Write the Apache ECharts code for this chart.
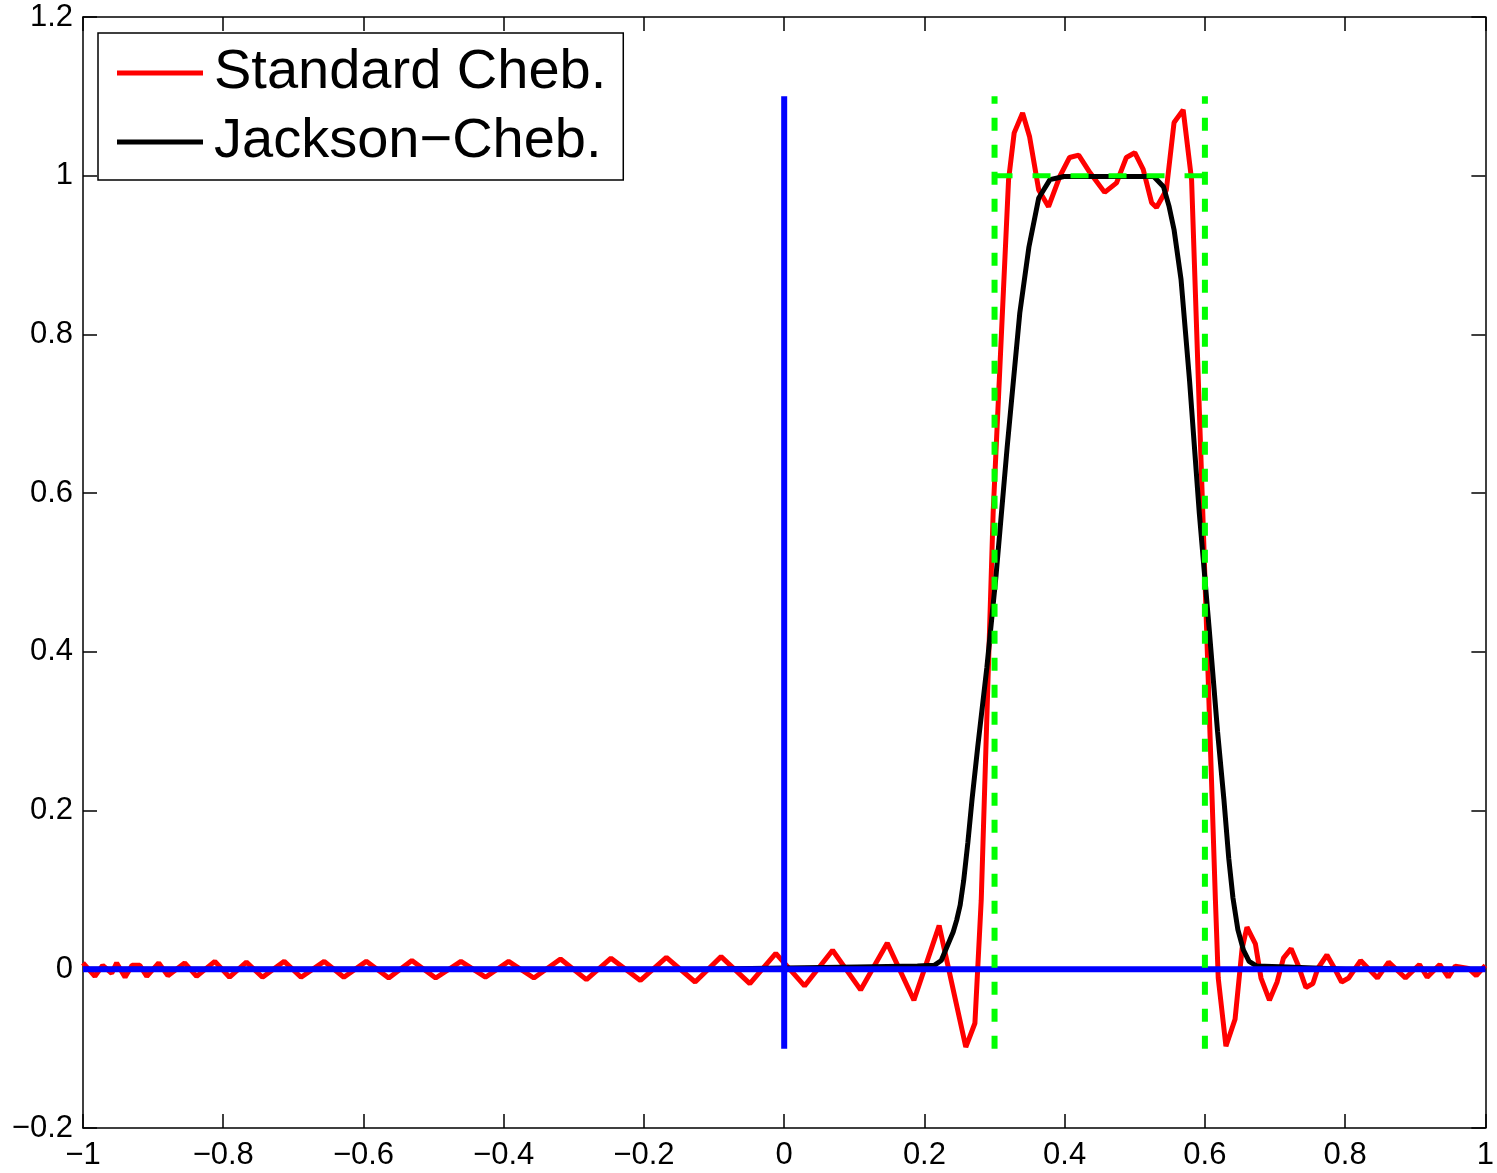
<!DOCTYPE html>
<html>
<head>
<meta charset="utf-8">
<script src="https://cdn.jsdelivr.net/npm/echarts@6/dist/echarts.min.js"></script>
<style>
  html, body { margin: 0; padding: 0; background: #fff; }
  #chart { width: 1497px; height: 1173px; }
</style>
</head>
<body>
<div id="chart"></div>
<script>
// values
const xTicks = [-1, -0.8, -0.6, -0.4, -0.2, 0, 0.2, 0.4, 0.6, 0.8, 1];
const yTicks = [-0.2, 0, 0.2, 0.4, 0.6, 0.8, 1, 1.2];

const legendNames = ['Standard Cheb.', 'Jackson\u2212Cheb.'];

// standard chebyshev expansion, [x, y]
const standardCheb = [
  [-1.000, 0.008], [-0.983, -0.009], [-0.972, 0.005], [-0.959, -0.005], [-0.952, 0.008],
  [-0.940, -0.010], [-0.930, 0.005], [-0.919, 0.005], [-0.909, -0.009], [-0.892, 0.008],
  [-0.879, -0.008], [-0.855, 0.008], [-0.838, -0.009], [-0.812, 0.010], [-0.791, -0.010],
  [-0.767, 0.009], [-0.744, -0.010], [-0.713, 0.010], [-0.689, -0.010], [-0.656, 0.010],
  [-0.628, -0.010], [-0.596, 0.010], [-0.564, -0.011], [-0.531, 0.011], [-0.497, -0.011],
  [-0.461, 0.010], [-0.426, -0.010], [-0.393, 0.010], [-0.357, -0.011], [-0.319, 0.013],
  [-0.282, -0.013], [-0.247, 0.014], [-0.205, -0.014], [-0.168, 0.015], [-0.127, -0.016],
  [-0.090, 0.016], [-0.049, -0.018], [-0.012, 0.020], [0.029, -0.021], [0.069, 0.024],
  [0.109, -0.026], [0.147, 0.033], [0.185, -0.039], [0.221, 0.055], [0.259, -0.098],
  [0.272, -0.068], [0.281, 0.087], [0.298, 0.575], [0.320, 0.995], [0.328, 1.054],
  [0.340, 1.079], [0.350, 1.049], [0.363, 0.982], [0.377, 0.961], [0.393, 0.999],
  [0.407, 1.023], [0.420, 1.026], [0.436, 1.004], [0.457, 0.979], [0.474, 0.991],
  [0.488, 1.023], [0.500, 1.029], [0.512, 1.008], [0.524, 0.966], [0.531, 0.960],
  [0.545, 0.982], [0.556, 1.067], [0.569, 1.083], [0.581, 0.995], [0.597, 0.575],
  [0.615, 0.087], [0.619, -0.011], [0.630, -0.097], [0.643, -0.063], [0.653, 0.026],
  [0.660, 0.053], [0.672, 0.032], [0.680, -0.011], [0.692, -0.039], [0.703, -0.016],
  [0.712, 0.014], [0.723, 0.026], [0.733, 0.005], [0.744, -0.023], [0.754, -0.018],
  [0.761, 0.001], [0.774, 0.018], [0.785, 0.001], [0.795, -0.016], [0.805, -0.011],
  [0.822, 0.011], [0.846, -0.011], [0.862, 0.009], [0.886, -0.011], [0.906, 0.006],
  [0.917, -0.010], [0.935, 0.006], [0.947, -0.010], [0.957, 0.004], [0.976, 0.001],
  [0.987, -0.008], [1.000, 0.005]
];

// jackson damped expansion, [x, y]
const jacksonCheb = [
  [-1.000, 0], [-0.123, 0], [0.104, 0.003], [0.190, 0.004], [0.214, 0.005],
  [0.224, 0.011], [0.232, 0.028], [0.241, 0.047], [0.246, 0.062], [0.251, 0.081],
  [0.256, 0.112], [0.262, 0.160], [0.268, 0.215], [0.276, 0.280], [0.289, 0.380],
  [0.302, 0.495], [0.318, 0.658], [0.336, 0.827], [0.349, 0.910], [0.363, 0.972],
  [0.379, 0.995], [0.399, 0.999], [0.527, 0.999], [0.541, 0.986], [0.549, 0.961],
  [0.556, 0.932], [0.566, 0.869], [0.578, 0.743], [0.592, 0.575], [0.606, 0.430],
  [0.618, 0.300], [0.627, 0.215], [0.634, 0.140], [0.640, 0.090], [0.647, 0.050],
  [0.655, 0.024], [0.663, 0.010], [0.674, 0.004], [0.718, 0.003], [0.801, 0],
  [1.000, 0]
];

// reference lines
const xAxisLine = [[-1, 0], [1, 0]];
const yAxisLine = [[0, -0.1], [0, 1.1]];
const stepLeft = [[0.3, -0.1], [0.3, 1.1]];
const stepRight = [[0.6, -0.1], [0.6, 1.1]];
const stepTop = [[0.3, 1], [0.6, 1]];

const font = "'Liberation Sans', Arial, Helvetica, sans-serif";

function tickLabel(v) {
  return String(Math.round(v * 10) / 10).replace('-', '\u2212');
}

function valueAxis(lo, hi, pos, showLabel, margin) {
  return {
    type: 'value',
    position: pos,
    min: lo,
    max: hi,
    interval: 0.2,
    axisLine: { show: true, onZero: false, lineStyle: { color: '#000', width: 1.5 } },
    axisTick: { show: true, inside: true, length: 14, lineStyle: { color: '#000', width: 1.5 } },
    splitLine: { show: false },
    axisLabel: {
      show: showLabel,
      color: '#000',
      fontSize: 31,
      fontFamily: font,
      margin: margin,
      formatter: tickLabel
    }
  };
}

function lineSeries(name, data, color, width, extra) {
  return Object.assign({
    name: name,
    type: 'line',
    data: data,
    showSymbol: false,
    symbol: 'none',
    silent: true,
    animation: false,
    lineStyle: { color: color, width: width }
  }, extra || {});
}

const chart = echarts.init(document.getElementById('chart'));

const option = {
  animation: false,
  backgroundColor: '#fff',
  grid: { left: 83, right: 7, top: 17, bottom: 45, containLabel: false },
  xAxis: [
    valueAxis(-1, 1, 'bottom', true, 12),
    valueAxis(-1, 1, 'top', false, 10)
  ],
  yAxis: [
    valueAxis(-0.2, 1.2, 'left', true, 10),
    valueAxis(-0.2, 1.2, 'right', false, 10)
  ],
  legend: {
    data: legendNames,
    orient: 'vertical',
    left: 98,
    top: 33,
    padding: [12, 17, 10, 19],
    itemGap: 13,
    itemWidth: 86,
    itemHeight: 5,
    icon: 'rect',
    backgroundColor: '#fff',
    borderColor: '#000',
    borderWidth: 1.5,
    borderRadius: 0,
    selectedMode: false,
    textStyle: { color: '#000', fontSize: 56, fontFamily: font, padding: [8, 0, 0, 6] }
  },
  series: [
    lineSeries(legendNames[0], standardCheb, '#ff0000', 5, { itemStyle: { color: '#ff0000' } }),
    lineSeries(legendNames[1], jacksonCheb, '#000000', 5, { itemStyle: { color: '#000000' } }),
    lineSeries('x0', xAxisLine, '#0000ff', 6),
    lineSeries('y0', yAxisLine, '#0000ff', 6),
    lineSeries('stepL', stepLeft, '#00ff00', 6, { lineStyle: { color: '#00ff00', width: 6, type: [13, 14] } }),
    lineSeries('stepR', stepRight, '#00ff00', 6, { lineStyle: { color: '#00ff00', width: 6, type: [13, 14] } }),
    lineSeries('stepT', stepTop, '#00ff00', 5, { lineStyle: { color: '#00ff00', width: 5, type: [18, 20] } })
  ]
};

chart.setOption(option);
</script>
</body>
</html>
